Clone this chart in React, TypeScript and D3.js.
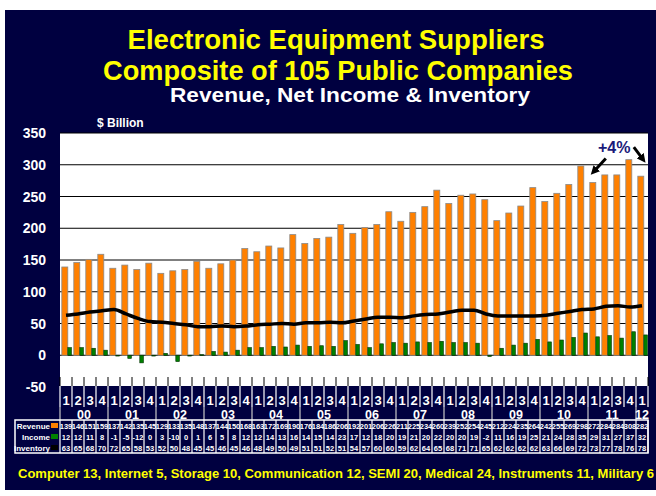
import * as d3 from 'd3';

const WIDTH = 656;
const HEIGHT = 496;
const NAVY = '#000040';

const years = ['00', '01', '02', '03', '04', '05', '06', '07', '08', '09', '10', '11', '12'];
const categories = years.flatMap((y) =>
  (y === '12' ? ['1'] : ['1', '2', '3', '4']).map((q) => ({year: y, quarter: q})),
);

const revenue = [
  139, 146, 151, 159, 137, 142, 135, 145, 129, 133, 135, 148, 137, 144, 150, 168,
  163, 172, 169, 190, 176, 184, 186, 206, 192, 201, 206, 226, 211, 225, 234, 260,
  239, 252, 254, 245, 212, 224, 235, 264, 242, 255, 269, 298, 272, 284, 284, 308, 282,
];
const income = [
  12, 12, 11, 8, -1, -5, -12, 0, 3, -10, 0, 1, 6, 5, 8, 12,
  12, 14, 13, 16, 14, 15, 14, 23, 17, 12, 18, 20, 19, 21, 20, 22,
  20, 20, 19, -2, 11, 16, 19, 25, 21, 24, 28, 35, 29, 31, 27, 37, 32,
];
const inventory = [
  63, 65, 68, 70, 72, 65, 58, 53, 52, 50, 48, 45, 45, 46, 45, 46,
  48, 49, 50, 49, 51, 51, 52, 51, 54, 57, 60, 60, 59, 62, 64, 65,
  68, 71, 71, 65, 62, 62, 62, 62, 63, 66, 69, 72, 73, 77, 78, 76, 78,
];
const yTicks = [-50, 0, 50, 100, 150, 200, 250, 300, 350];
const tableRows = [
  {name: 'Revenue', key: '#ff8000', values: revenue},
  {name: 'Income', key: '#008000', values: income},
  {name: 'Inventory', key: '#000000', values: inventory},
];
const footer =
  'Computer 13, Internet 5, Storage 10, Communication 12, SEMI 20, Medical 24, Instruments 11, Military 6';

const plot = {left: 60, right: 648, top: 133, bottom: 386};

export default function App() {
  const x = d3
    .scaleBand<number>()
    .domain(d3.range(categories.length))
    .range([plot.left, plot.right]);
  const bw = x.bandwidth();
  const y = d3.scaleLinear().domain([-50, 350]).range([387, plot.top]);

  const line = d3
    .line<number>()
    .x((_, i) => x(i)! + bw / 2)
    .y((d) => y(d))
    .curve(d3.curveMonotoneX);

  const font = 'Liberation Sans, Arial, sans-serif';
  const yearStarts = categories
    .map((c, i) => ({...c, i}))
    .filter((c) => c.quarter === '1');

  const revX = (i: number) => x(i)! + bw * 0.15;
  const revW = bw * 0.5;
  const incX = (i: number) => x(i)! + bw * 0.65;
  const incW = bw * 0.3;

  // annotation anchored to 11Q1 and 12Q1 revenue
  const a1 = {x: revX(44) + revW / 2 + 1, y: y(revenue[44]) - 11};
  const a2 = {x: revX(48) + revW / 2 + 2, y: y(revenue[48]) - 17};

  const tableTop = 420;
  const rowH = 11;

  return (
    <svg
      width={WIDTH}
      height={HEIGHT}
      style={{position: 'absolute', left: 0, top: 0}}
      fontFamily={font}
      fontWeight="bold"
    >
      <defs>
        <marker id="ah" viewBox="0 0 10 10" refX="5" refY="5" markerWidth="3" markerHeight="3" orient="auto">
          <path d="M0,0 L10,5 L0,10 z" fill="#000" />
        </marker>
      </defs>
      <rect width={WIDTH} height={HEIGHT} fill="#fff" />
      <rect x={5} y={10} width={WIDTH - 5} height={480} fill={NAVY} />

      <text x={336} y={49} textAnchor="middle" fill="#ffff00" fontSize={27} textLength={417} lengthAdjust="spacingAndGlyphs">
        Electronic Equipment Suppliers
      </text>
      <text x={338} y={80} textAnchor="middle" fill="#ffff00" fontSize={27} textLength={470} lengthAdjust="spacingAndGlyphs">
        Composite of 105 Public Companies
      </text>
      <text x={350} y={102} textAnchor="middle" fill="#fff" fontSize={20} textLength={360} lengthAdjust="spacingAndGlyphs">
        Revenue, Net Income &amp; Inventory
      </text>
      <text x={97} y={127} fill="#fff" fontSize={12}>
        $ Billion
      </text>

      <rect x={plot.left} y={plot.top} width={plot.right - plot.left} height={plot.bottom - plot.top} fill="#fff" />

      {yTicks.map((t) => (
        <g key={t}>
          {t >= 0 && (
            <line x1={plot.left} x2={plot.right} y1={y(t)} y2={y(t)} stroke="#000" strokeWidth={1} />
          )}
          <text x={46} y={y(t) + 5} textAnchor="end" fill="#fff" fontSize={14}>
            {t}
          </text>
        </g>
      ))}

      {revenue.map((v, i) => (
        <rect
          key={`r${i}`}
          x={revX(i)}
          y={y(v)}
          width={revW}
          height={y(0) - y(v)}
          fill="#ff8000"
          stroke="#8a8a8a"
          strokeWidth={0.8}
        />
      ))}
      {income.map((v, i) => (
        <rect
          key={`n${i}`}
          x={incX(i)}
          y={Math.min(y(v), y(0))}
          width={incW}
          height={Math.max(Math.abs(y(0) - y(v)), 0.8)}
          fill="#008000"
          stroke="#003000"
          strokeWidth={0.6}
        />
      ))}
      <path d={line(inventory)!} fill="none" stroke="#000" strokeWidth={3.5} strokeLinejoin="round" />

      <text x={598} y={153} fill="#1a1a7a" fontSize={16}>
        +4%
      </text>
      <line x1={a1.x + 12} y1={a1.y - 13} x2={a1.x} y2={a1.y} stroke="#000" strokeWidth={3} markerEnd="url(#ah)" />
      <line x1={a2.x - 9} y1={a2.y - 12} x2={a2.x} y2={a2.y} stroke="#000" strokeWidth={3} markerEnd="url(#ah)" />

      {d3.range(categories.length + 1).map((i) => {
        const xx = plot.left + i * bw;
        const isYear = i % 4 === 0;
        return (
          <g key={`t${i}`}>
            <line x1={xx} x2={xx} y1={377} y2={386} stroke="#000" strokeWidth={1} />
            <line x1={xx} x2={xx} y1={386} y2={407} stroke="#fff" strokeWidth={1.2} />
            {isYear && <line x1={xx} x2={xx} y1={407} y2={tableTop} stroke="#c8c8c8" strokeWidth={1.2} />}
            <line x1={xx} x2={xx} y1={tableTop} y2={tableTop + rowH * 3} stroke="#fff" strokeWidth={1.2} />
          </g>
        );
      })}
      {categories.map((c, i) => (
        <text key={`q${i}`} x={x(i)! + bw / 2} y={405} textAnchor="middle" fill="#fff" fontSize={13}>
          {c.quarter}
        </text>
      ))}
      {yearStarts.map((c) => {
        const n = categories.filter((d) => d.year === c.year).length;
        return (
          <text key={c.year} x={x(c.i)! + (n * bw) / 2} y={419} textAnchor="middle" fill="#fff" fontSize={12.5}>
            {c.year}
          </text>
        );
      })}

      <rect x={15} y={tableTop} width={plot.right - 15} height={rowH * 3} fill="none" stroke="#fff" strokeWidth={1.5} />
      {tableRows.map((r, ri) => {
        const cy = tableTop + rowH * ri + rowH / 2;
        return (
          <g key={r.name}>
            <text x={50} y={cy + 3} textAnchor="end" fill="#fff" fontSize={8}>
              {r.name}
            </text>
            <rect x={51} y={cy - 2.5} width={7} height={5} fill={r.key} />
            {r.values.map((v, i) => (
              <text key={i} x={x(i)! + bw / 2} y={cy + 3} textAnchor="middle" fill="#fff" fontSize={7.5}>
                {v}
              </text>
            ))}
          </g>
        );
      })}

      <text x={18} y={478} fill="#ffff00" fontSize={13} textLength={636} lengthAdjust="spacingAndGlyphs">
        {footer}
      </text>
    </svg>
  );
}
